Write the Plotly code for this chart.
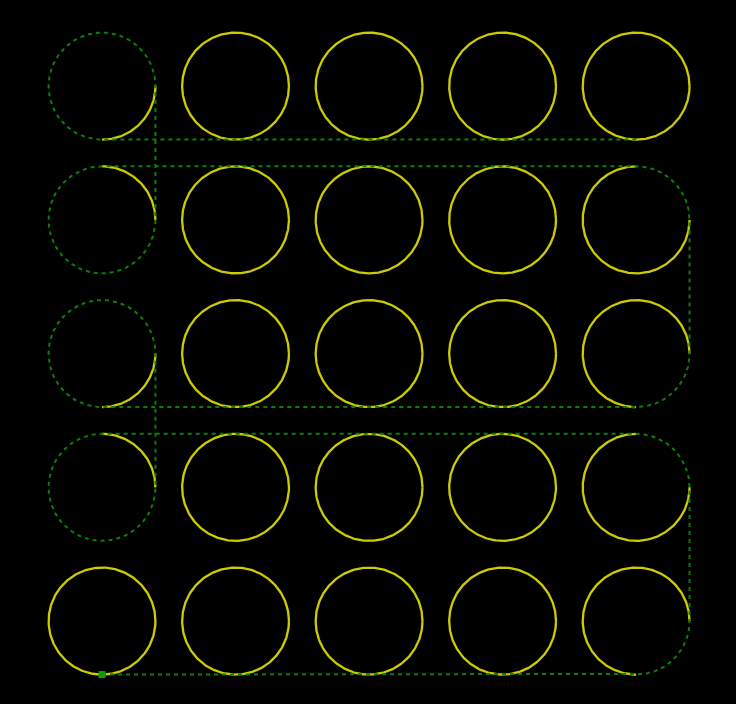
import numpy as np
import plotly.graph_objects as go

# hole grid (mm): centres and radius
hole_x = [0, 25, 50, 75, 100] * 5
hole_y = [0] * 5 + [25] * 5 + [50] * 5 + [75] * 5 + [100] * 5
hole_r = 10

# cut arc per hole, degrees CCW from +x (full circle unless listed)
cut_start = [0] * 25
cut_end = [360] * 25
partial = {4: (0, 270), 9: (90, 360), 5: (0, 90), 10: (270, 360),
           14: (0, 270), 19: (90, 360), 15: (0, 90), 20: (270, 360)}
for k, (a0, a1) in partial.items():
    cut_start[k], cut_end[k] = a0, a1

# travel moves: ("L", x, y) straight, ("A", cx, cy, a0, a1) arc
start = (0, -10)
moves = [
    ("L", 100, -10), ("A", 100, 0, -90, 0),
    ("L", 110, 25), ("A", 100, 25, 0, 90),
    ("L", 0, 35), ("A", 0, 25, 90, 360),
    ("L", 10, 50), ("A", 0, 50, 0, 270),
    ("L", 100, 40), ("A", 100, 50, -90, 0),
    ("L", 110, 75), ("A", 100, 75, 0, 90),
    ("L", 0, 85), ("A", 0, 75, 90, 360),
    ("L", 10, 100), ("A", 0, 100, 0, 270),
    ("L", 100, 90),
]


def arc(cx, cy, r, a0, a1, n=90):
    t = np.radians(np.linspace(a0, a1, n))
    return list(cx + r * np.cos(t)), list(cy + r * np.sin(t))


# cut geometry
cx_all, cy_all = [], []
for x, y, a0, a1 in zip(hole_x, hole_y, cut_start, cut_end):
    ax, ay = arc(x, y, hole_r, a0, a1, n=int(abs(a1 - a0)) + 1)
    cx_all += ax + [None]
    cy_all += ay + [None]

# travel geometry
tx, ty = [start[0]], [start[1]]
for m in moves:
    if m[0] == "L":
        tx.append(m[1]); ty.append(m[2])
    else:
        ax, ay = arc(m[1], m[2], hole_r, m[3], m[4])
        tx += ax; ty += ay

fig = go.Figure()
fig.add_trace(go.Scatter(x=cx_all, y=cy_all, mode="lines",
                         line=dict(color="#cccc00", width=2.3),
                         hoverinfo="skip"))
fig.add_trace(go.Scatter(x=tx, y=ty, mode="lines",
                         line=dict(color="#0a800a", width=2, dash="4px,4px"),
                         hoverinfo="skip"))
fig.add_trace(go.Scatter(x=[start[0]], y=[start[1]], mode="markers",
                         marker=dict(symbol="square", size=7, color="#109a10"),
                         hoverinfo="skip"))

fig.update_layout(
    width=736, height=704,
    margin=dict(l=0, r=0, t=0, b=0),
    paper_bgcolor="black", plot_bgcolor="black",
    showlegend=False,
    xaxis=dict(range=[-19.1, 118.7], visible=False, fixedrange=True),
    yaxis=dict(range=[-15.5, 116.1], visible=False, fixedrange=True),
)
fig.write_html("out.html", config={"displayModeBar": False},
               post_script="document.body.style.margin='0';"
                           "document.body.style.overflow='hidden';"
                           "document.body.style.background='black';")
